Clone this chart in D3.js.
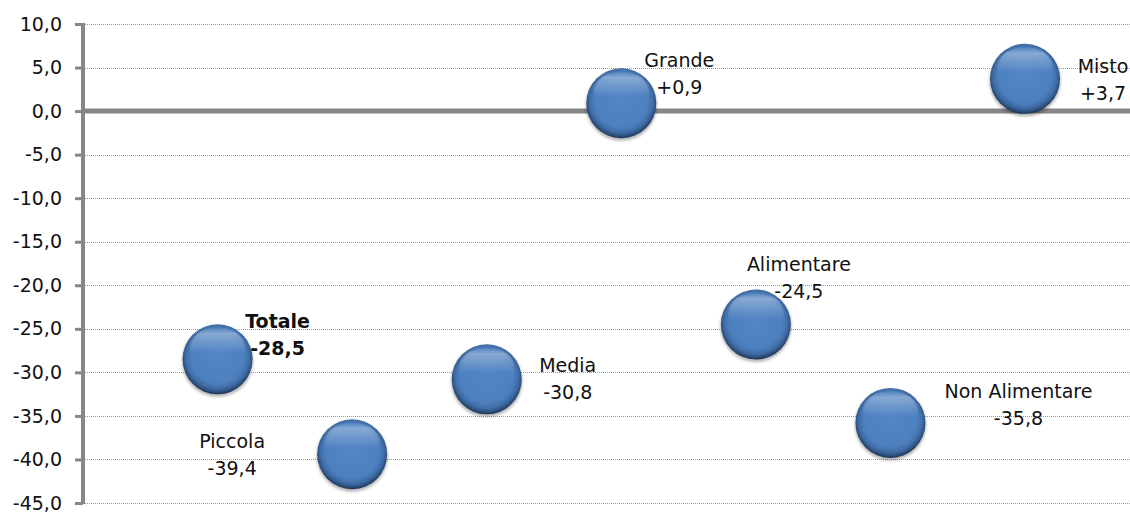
<!DOCTYPE html>
<html>
<head>
<meta charset="utf-8">
<script src="https://cdn.jsdelivr.net/npm/d3@7"></script>
<style>
  html, body { margin: 0; padding: 0; background: #ffffff; }
  svg { display: block; }
  text { font-family: "DejaVu Sans", sans-serif; fill: #111; }
</style>
</head>
<body>
<svg id="chart" width="1130" height="514"></svg>
<script>
// ---- data ----
const categories = ["Totale", "Piccola", "Media", "Grande", "Alimentare", "Non Alimentare", "Misto"];
const xPositions = [1, 2, 3, 4, 5, 6, 7];
const values = [-28.5, -39.4, -30.8, 0.9, -24.5, -35.8, 3.7];
const bubbleSizes = [1, 1, 1, 1, 1, 1, 1];
const yTicks = [10, 5, 0, -5, -10, -15, -20, -25, -30, -35, -40, -45];
const boldLabels = ["Totale"];
// label placement (layout, offsets of label block centre from bubble centre, px)
const labelDx = [60, -120, 81, 58, 43, 128, 78];
const labelDy = [-24, 1, 0, -29, -47, -18, 1];

const svg = d3.select("#chart");
const mLeft = 83, mRight = 1130, mTop = 24, mBottom = 503;

const x = d3.scaleLinear().domain([0, 7.78]).range([mLeft, mRight]);
const y = d3.scaleLinear().domain([-45, 10]).range([mBottom, mTop]);
const r = d3.scaleSqrt().domain([0, 1]).range([0, 35]);

const fmt = v => {
  const s = Math.abs(v).toFixed(1).replace(".", ",");
  return (v > 0 ? "+" : v < 0 ? "-" : "") + s;
};
const fmtTick = v => (v < 0 ? "-" : "") + Math.abs(v).toFixed(1).replace(".", ",");

// defs
const defs = svg.append("defs");
const g1 = defs.append("radialGradient").attr("id", "ball")
  .attr("cx", "50%").attr("cy", "47%").attr("r", "53%").attr("fx", "50%").attr("fy", "42%");
g1.append("stop").attr("offset", "0%").attr("stop-color", "#5386c6");
g1.append("stop").attr("offset", "72%").attr("stop-color", "#4d80bf");
g1.append("stop").attr("offset", "86%").attr("stop-color", "#3f6ca5");
g1.append("stop").attr("offset", "95%").attr("stop-color", "#2a4c78");
g1.append("stop").attr("offset", "100%").attr("stop-color", "#1a3050");
const g2 = defs.append("linearGradient").attr("id", "hl")
  .attr("x1", "0").attr("y1", "0").attr("x2", "0").attr("y2", "1");
g2.append("stop").attr("offset", "0%").attr("stop-color", "#ffffff").attr("stop-opacity", 0.0);
g2.append("stop").attr("offset", "15%").attr("stop-color", "#ffffff").attr("stop-opacity", 0.32);
g2.append("stop").attr("offset", "60%").attr("stop-color", "#ffffff").attr("stop-opacity", 0.0);
const blur = defs.append("filter").attr("id", "sh").attr("x", "-50%").attr("y", "-50%").attr("width", "200%").attr("height", "200%");
blur.append("feGaussianBlur").attr("stdDeviation", 1.5);

// gridlines (dotted)
svg.append("g").selectAll("line")
  .data(yTicks.filter(t => t !== 0))
  .join("line")
  .attr("x1", mLeft).attr("x2", mRight)
  .attr("y1", d => Math.round(y(d)) + 0.5).attr("y2", d => Math.round(y(d)) + 0.5)
  .attr("stroke", "#9a9a9a").attr("stroke-width", 1).attr("stroke-dasharray", "1,1");

// y axis
const yAxis = d3.axisLeft(y).tickValues(yTicks).tickFormat(fmtTick).tickSize(8).tickPadding(13);
const ga = svg.append("g").attr("transform", `translate(${mLeft},0)`).call(yAxis);
ga.select(".domain").attr("stroke", "#868686").attr("stroke-width", 4).attr("d", `M0,${mTop - 1}V${mBottom + 1}`);
ga.selectAll(".tick line").attr("stroke", "#868686").attr("stroke-width", 3);
ga.selectAll(".tick text").style("font-family", "DejaVu Sans, sans-serif").style("font-size", "19px").attr("fill", "#111");

// zero line
svg.append("line")
  .attr("x1", mLeft).attr("x2", mRight).attr("y1", y(0)).attr("y2", y(0))
  .attr("stroke", "#868686").attr("stroke-width", 5);

// bubbles
const pts = categories.map((c, i) => ({ c, i, xv: xPositions[i], v: values[i], s: bubbleSizes[i] }));
const gb = svg.append("g");
const b = gb.selectAll("g.b").data(pts).join("g").attr("class", "b")
  .attr("transform", d => `translate(${x(d.xv)},${y(d.v)})`);
b.append("circle").attr("cy", 2).attr("r", d => r(d.s) + 0.5).attr("fill", "#000").attr("opacity", 0.3).attr("filter", "url(#sh)");
b.append("circle").attr("r", d => r(d.s)).attr("fill", "url(#ball)");
b.append("ellipse").attr("cy", d => -r(d.s) * 0.3).attr("rx", d => r(d.s) * 0.8).attr("ry", d => r(d.s) * 0.62)
  .attr("fill", "url(#hl)");

// labels
const gl = svg.append("g");
pts.forEach(d => {
  const cx = x(d.xv) + labelDx[d.i], cy = y(d.v) + labelDy[d.i];
  const bold = boldLabels.includes(d.c);
  const t = gl.append("text").attr("text-anchor", "middle")
    .style("font-size", "19px").style("font-weight", bold ? "bold" : "normal");
  t.append("tspan").attr("x", cx).attr("y", cy - 13.5).attr("dy", "0.35em").text(d.c);
  t.append("tspan").attr("x", cx).attr("y", cy + 13.5).attr("dy", "0.35em").text(fmt(d.v));
});
</script>
</body>
</html>
